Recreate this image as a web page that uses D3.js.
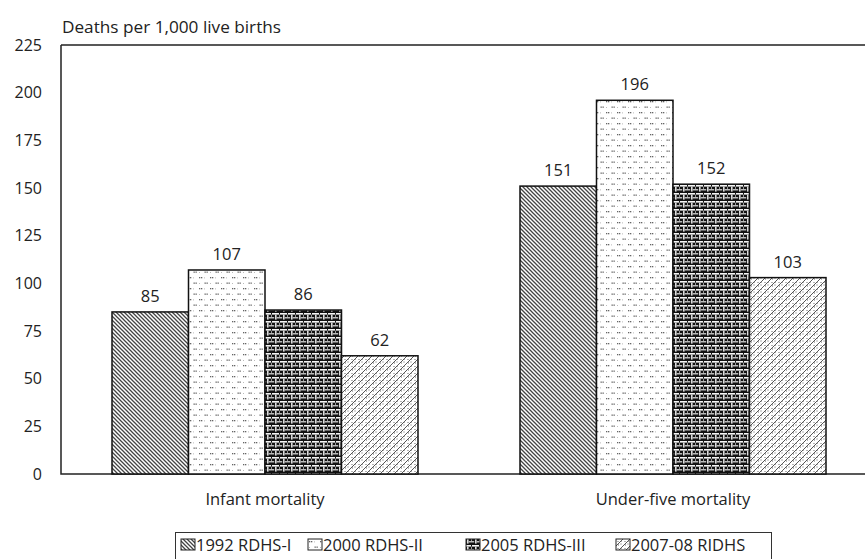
<!DOCTYPE html>
<html><head><meta charset="utf-8">
<script src="https://cdn.jsdelivr.net/npm/d3@7"></script>
<style>body{margin:0;background:#fff}svg{display:block}text{font-family:"Open Sans",Lato,sans-serif;fill:#222}</style>
</head><body><svg id="c" width="865" height="559"></svg>
<script>
const categories = ["Infant mortality", "Under-five mortality"];
const seriesNames = ["1992 RDHS-I", "2000 RDHS-II", "2005 RDHS-III", "2007-08 RIDHS"];
const s1992 = [85, 151];
const s2000 = [107, 196];
const s2005 = [86, 152];
const s2007 = [62, 103];
const yTicks = [0, 25, 50, 75, 100, 125, 150, 175, 200, 225];
const yTitle = "Deaths per 1,000 live births";

const seriesValues = [s1992, s2000, s2005, s2007];
const svg = d3.select("#c");
const defs = svg.append("defs");
const FS = "16.5px";

// patterns
const p1 = defs.append("pattern").attr("id","p0").attr("patternUnits","userSpaceOnUse").attr("width",4).attr("height",4);
p1.append("rect").attr("width",4).attr("height",4).attr("fill","#fff");
p1.append("path").attr("d","M-1,-1 L5,5 M-1,3 L1,5 M3,-1 L5,1").attr("stroke","#444").attr("stroke-width",1.3);

const p2 = defs.append("pattern").attr("id","p1").attr("patternUnits","userSpaceOnUse").attr("width",11).attr("height",11);
p2.append("rect").attr("width",11).attr("height",11).attr("fill","#fff");
[[1,2],[3,2],[6.5,7.5],[8.5,7.5]].forEach(([x,y])=>p2.append("rect").attr("x",x).attr("y",y).attr("width",1.3).attr("height",1.3).attr("fill","#666"));
[[6,2.5],[1,8]].forEach(([x,y])=>p2.append("rect").attr("x",x).attr("y",y).attr("width",1).attr("height",0.8).attr("fill","#aaa"));

const p3 = defs.append("pattern").attr("id","p2").attr("patternUnits","userSpaceOnUse").attr("width",8).attr("height",8);
p3.append("rect").attr("width",8).attr("height",8).attr("fill","#111");
p3.append("rect").attr("x",0).attr("y",1).attr("width",7).attr("height",1.6).attr("fill","#f5f5f5");
p3.append("rect").attr("x",3).attr("y",2.6).attr("width",1.6).attr("height",5).attr("fill","#ddd");
p3.append("rect").attr("x",4.6).attr("y",5).attr("width",3.4).attr("height",1.5).attr("fill","#bbb");
p3.append("rect").attr("x",0).attr("y",5).attr("width",2.2).attr("height",1.5).attr("fill","#bbb");
p3.append("rect").attr("x",7).attr("y",2.6).attr("width",1).attr("height",2.4).attr("fill","#999");

const p4 = defs.append("pattern").attr("id","p3").attr("patternUnits","userSpaceOnUse").attr("width",7).attr("height",7);
p4.append("rect").attr("width",7).attr("height",7).attr("fill","#fff");
p4.append("path").attr("d","M-1,8 L8,-1 M-1,1 L1,-1 M6,8 L8,6").attr("stroke","#555").attr("stroke-width",1);
[[1.5,2],[4.5,4.5],[5,1.5],[2,5.5]].forEach(([x,y])=>p4.append("rect").attr("x",x).attr("y",y).attr("width",1).attr("height",1).attr("fill","#666"));

const x0 = d3.scaleBand().domain(categories).range([61, 877]).paddingInner(0.25).paddingOuter(0.125);
const x1 = d3.scaleBand().domain(seriesNames).range([0, x0.bandwidth()]);
const y = d3.scaleLinear().domain([0, 225]).range([474, 45]);

// frame
svg.append("path").attr("d",`M61,${y(225)} H865 M61,${y(225)} V${y(0)} H865`).attr("fill","none").attr("stroke","#222").attr("stroke-width",1.5);

// y axis ticks labels
const yAxis = d3.axisLeft(y).tickValues(yTicks).tickSize(0).tickPadding(19);
const ga = svg.append("g").attr("transform","translate(61,0)").call(yAxis);
ga.select(".domain").remove();
ga.selectAll("text").style("font-family","'Open Sans',Lato,sans-serif").style("font-size","16px").attr("fill","#222");

svg.append("text").attr("x",62).attr("y",33).attr("font-size","16px").attr("textLength",219).attr("lengthAdjust","spacingAndGlyphs").text(yTitle);

// bars
categories.forEach((c, ci) => {
  seriesNames.forEach((s, si) => {
    const v = seriesValues[si][ci];
    const bx = x0(c) + x1(s);
    svg.append("rect").attr("x",bx).attr("y",y(v)).attr("width",x1.bandwidth()).attr("height",y(0)-y(v))
      .attr("fill",`url(#p${si})`).attr("stroke","#111").attr("stroke-width",1.5);
    svg.append("text").attr("x",bx + x1.bandwidth()/2).attr("y",y(v)-10).attr("text-anchor","middle").attr("font-size",FS).text(v);
  });
  svg.append("text").attr("x",x0(c)+x0.bandwidth()/2).attr("y",505).attr("text-anchor","middle").attr("font-size",FS).text(c);
});

// legend
svg.append("rect").attr("x",175.5).attr("y",532.5).attr("width",596).attr("height",40).attr("fill","none").attr("stroke","#333").attr("stroke-width",1);
const lx = [181, 308, 466, 616];
seriesNames.forEach((s, si) => {
  svg.append("rect").attr("x",lx[si]).attr("y",539).attr("width",14).attr("height",11).attr("fill",`url(#p${si})`).attr("stroke","#222").attr("stroke-width",1);
  svg.append("text").attr("x",lx[si]+15).attr("y",551).attr("font-size",FS).text(s);
});
</script></body></html>
